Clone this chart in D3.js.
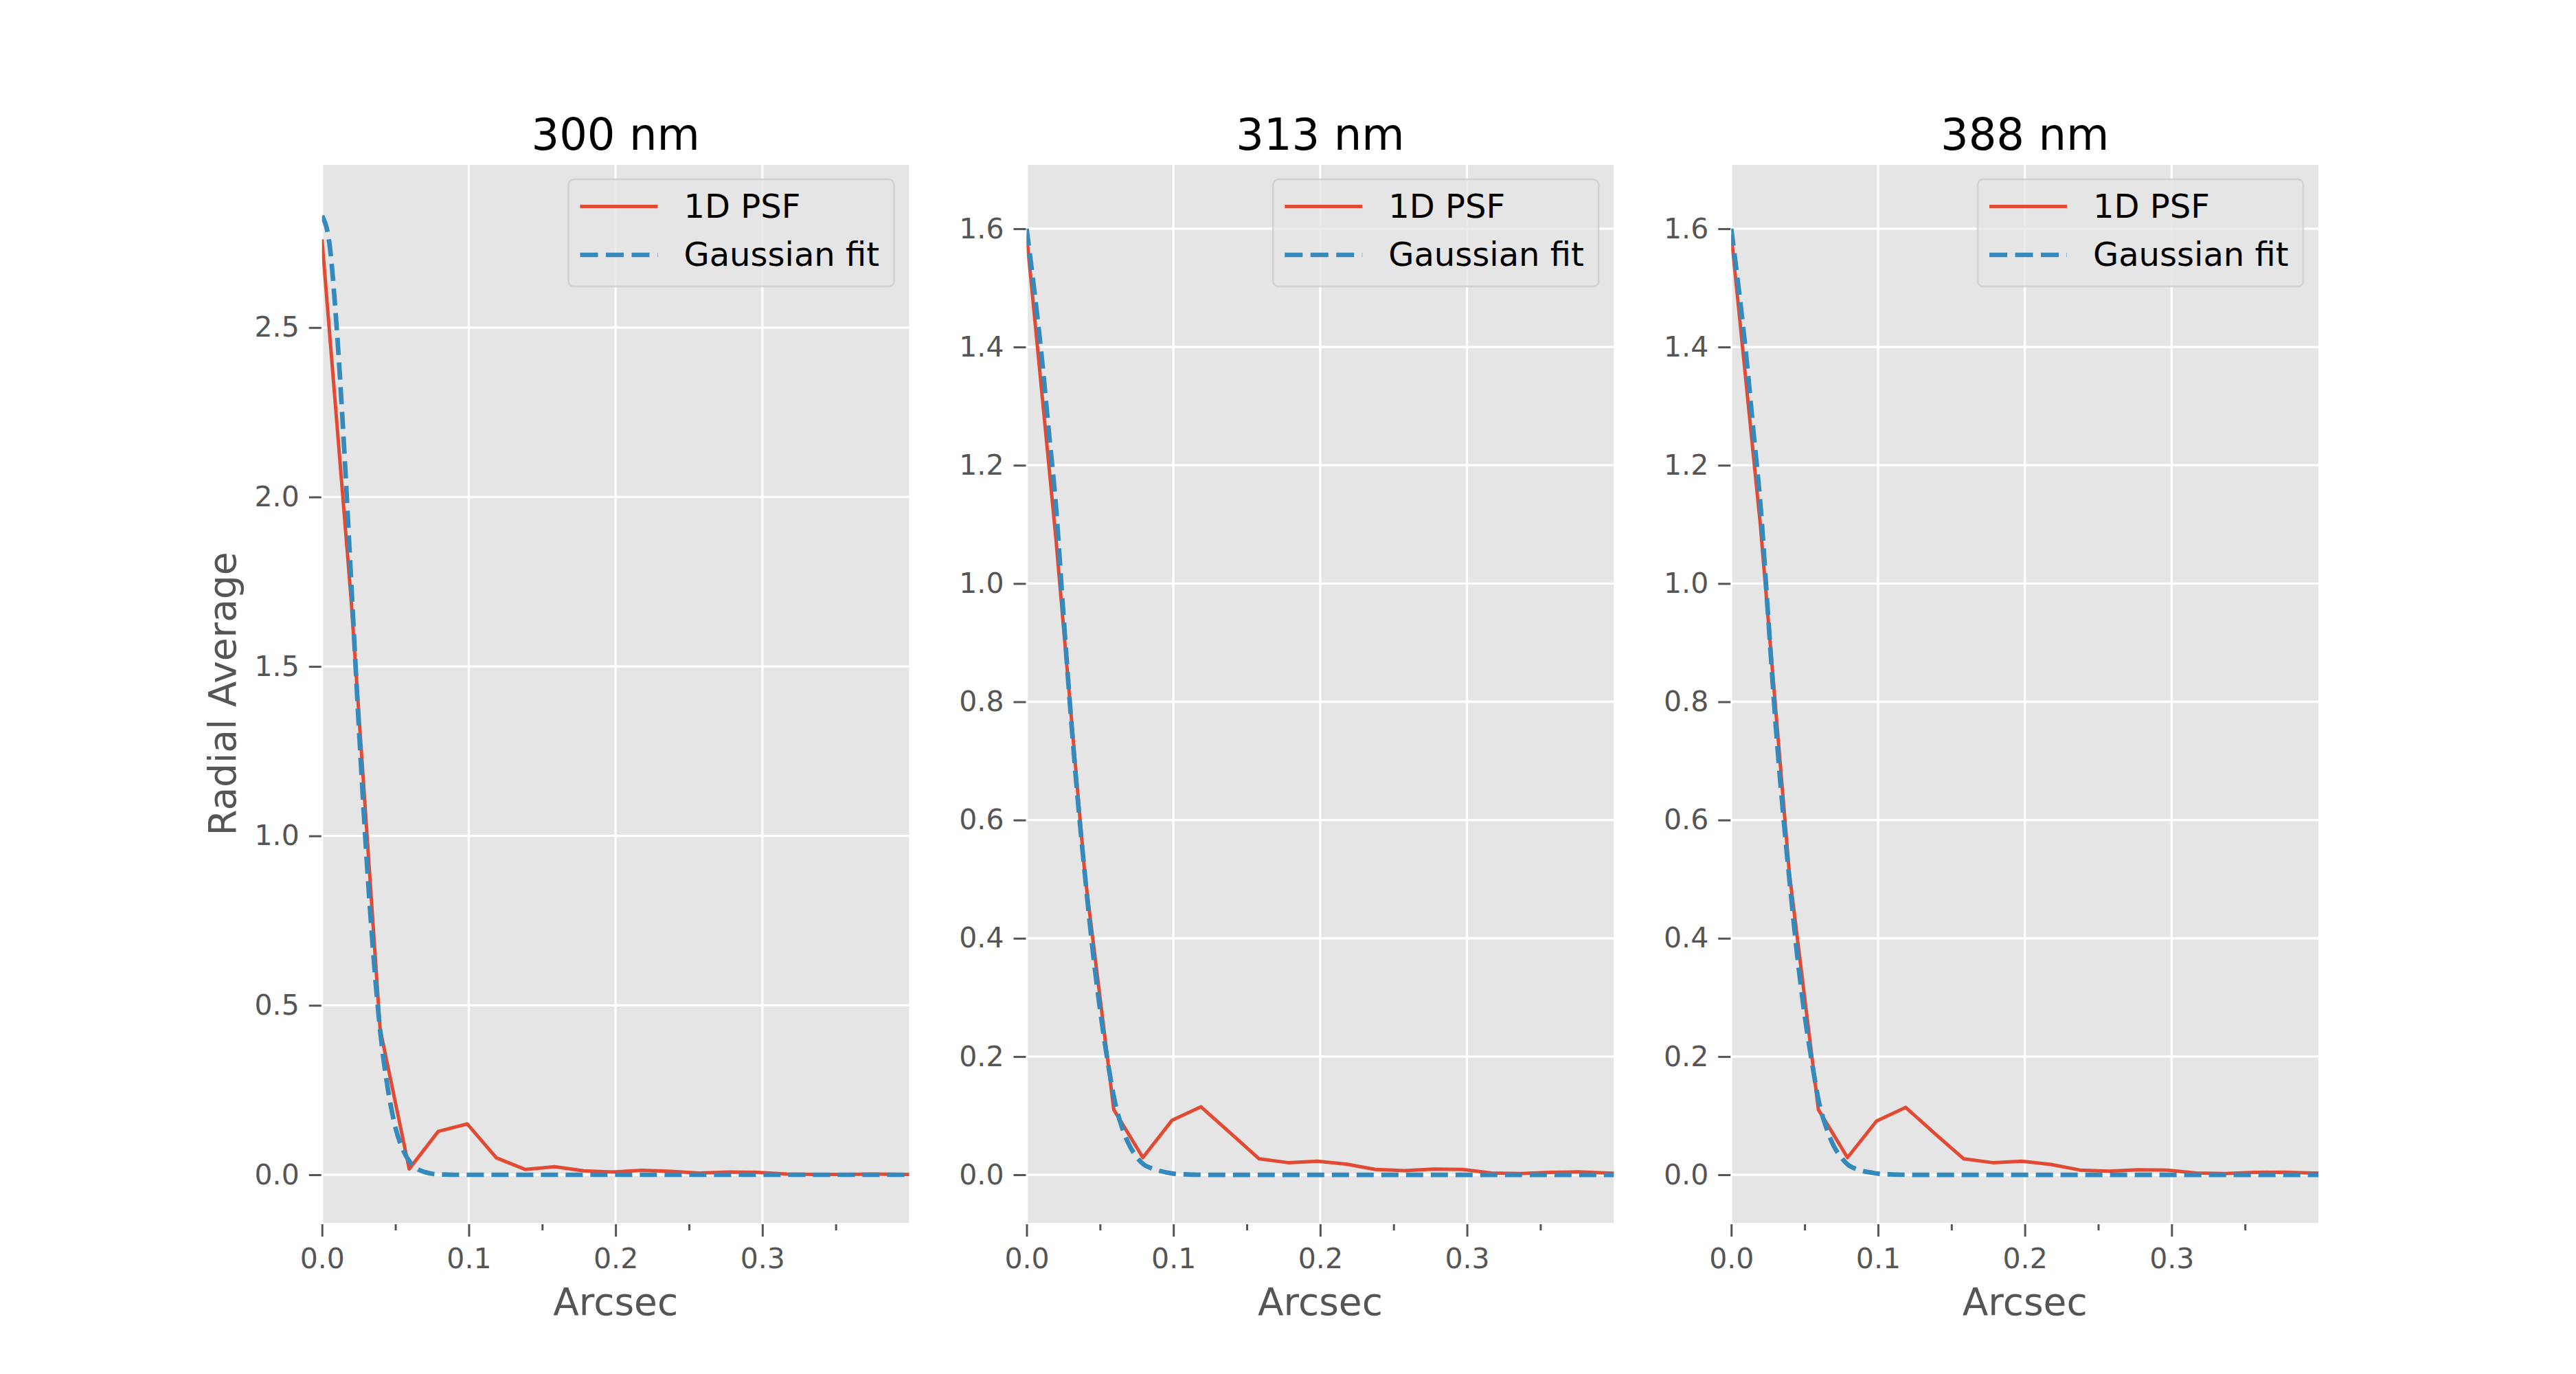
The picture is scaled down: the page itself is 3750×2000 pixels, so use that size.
<!DOCTYPE html>
<html>
<head>
<meta charset="utf-8">
<script src="https://cdn.jsdelivr.net/npm/d3@7"></script>
<style>
body { margin: 0; background: #fff; }
text { font-family: "DejaVu Sans", sans-serif; }
</style>
</head>
<body>
<svg id="fig" width="3750" height="2000"></svg>
<script>
// ---- data ----
var titles = ["300 nm", "313 nm", "388 nm"];
var legendLabels = ["1D PSF", "Gaussian fit"];

// radial sample positions of the measured profiles (arcsec)
var arcsec = [0, 0.0198, 0.0396, 0.0594, 0.0792, 0.099, 0.1188, 0.1386, 0.1584, 0.1782, 0.198,
	0.2178, 0.2376, 0.2574, 0.2772, 0.297, 0.3168, 0.3366, 0.3564, 0.3762, 0.396, 0.4158];

var psf300 = [2.76, 1.70, 0.43, 0.017, 0.128, 0.15, 0.05, 0.0155, 0.024, 0.0115, 0.008,
	0.013, 0.01, 0.005, 0.008, 0.007, 0.002, 0.001, 0.001, 0.002, 0.001, 0.001];
var psf313 = [1.59, 1.08, 0.51, 0.11, 0.029, 0.092, 0.115, 0.071, 0.027, 0.0205, 0.023,
	0.018, 0.009, 0.007, 0.0097, 0.009, 0.003, 0.002, 0.004, 0.005, 0.003, 0.002];
var psf388 = [1.59, 1.10, 0.51, 0.11, 0.029, 0.091, 0.114, 0.07, 0.027, 0.0205, 0.023,
	0.0175, 0.008, 0.006, 0.0085, 0.008, 0.003, 0.002, 0.004, 0.0045, 0.003, 0.002];

// positions where the fitted curves were read (arcsec)
var fitArcsec = [0, 0.005, 0.01, 0.015, 0.02, 0.025, 0.03, 0.035, 0.04, 0.045, 0.05,
	0.055, 0.06, 0.065, 0.07, 0.075, 0.08, 0.085, 0.09, 0.095, 0.1, 0.11, 0.12, 0.2, 0.3, 0.4158];

var fit300 = [2.83, 2.75, 2.50, 2.15, 1.74, 1.33, 0.96, 0.65, 0.41, 0.25, 0.14,
	0.075, 0.037, 0.017, 0.008, 0.003, 0.001, 0.0005, 0, 0, 0, 0, 0, 0, 0, 0];
var fit313 = [1.60, 1.50, 1.39, 1.26, 1.13, 0.95, 0.78, 0.63, 0.50, 0.38, 0.28,
	0.195, 0.125, 0.08, 0.05, 0.03, 0.017, 0.011, 0.007, 0.004, 0.002, 0.0005, 0, 0, 0, 0];
var fit388 = [1.60, 1.50, 1.39, 1.26, 1.13, 0.95, 0.77, 0.62, 0.49, 0.37, 0.27,
	0.19, 0.12, 0.078, 0.048, 0.029, 0.016, 0.01, 0.006, 0.004, 0.002, 0.0005, 0, 0, 0, 0];

var xLimits = [0, 0.4];
var xTicks = [0, 0.1, 0.2, 0.3];
var xMinorTicks = [0.05, 0.15, 0.25, 0.35];
var yLimits = [[-0.1419, 2.98], [-0.0813, 1.708], [-0.0813, 1.708]];
var yTicks = [[0, 0.5, 1, 1.5, 2, 2.5],
	[0, 0.2, 0.4, 0.6, 0.8, 1, 1.2, 1.4, 1.6],
	[0, 0.2, 0.4, 0.6, 0.8, 1, 1.2, 1.4, 1.6]];

var psfSeries = [psf300, psf313, psf388];
var fitSeries = [fit300, fit313, fit388];

// ---- layout ----
var panelLeft = [468.75, 1494.5, 2520.25];
var panelWidth = 854.75;
var panelTop = 240;
var panelHeight = 1540;

var red = "#E24A33";
var blue = "#348ABD";
var grey = "#555555";

var svg = d3.select("#fig");
svg.append("rect").attr("width", 3750).attr("height", 2000).attr("fill", "#fff");

titles.forEach(function(t, i){ drawPanel(i); });

// y label only on the first panel
svg.append("text")
	.attr("transform", "translate(343," + (panelTop + panelHeight / 2) + ") rotate(-90)")
	.attr("text-anchor", "middle")
	.attr("font-size", 55)
	.attr("fill", grey)
	.text("Radial Average");

function drawPanel(i){
	var x = d3.scaleLinear().domain(xLimits).range([0, panelWidth]);
	var y = d3.scaleLinear().domain(yLimits[i]).range([panelHeight, 0]);

	var g = svg.append("g")
		.attr("transform", "translate(" + panelLeft[i] + "," + panelTop + ")");

	g.append("clipPath").attr("id", "clip" + i)
		.append("rect").attr("width", panelWidth).attr("height", panelHeight);

	g.append("rect")
		.attr("width", panelWidth)
		.attr("height", panelHeight)
		.attr("fill", "#E5E5E5");

	// grid
	g.selectAll(".vgrid").data(xTicks).enter().append("line")
		.attr("x1", function(d){ return x(d); })
		.attr("x2", function(d){ return x(d); })
		.attr("y1", 0).attr("y2", panelHeight)
		.attr("stroke", "#fff").attr("stroke-width", 3.3);
	g.selectAll(".hgrid").data(yTicks[i]).enter().append("line")
		.attr("y1", function(d){ return y(d); })
		.attr("y2", function(d){ return y(d); })
		.attr("x1", 0).attr("x2", panelWidth)
		.attr("stroke", "#fff").attr("stroke-width", 3.3);

	// axes
	var fmt = d3.format(".1f");
	var xAxis = g.append("g")
		.attr("transform", "translate(0," + (panelHeight + 2) + ")")
		.call(d3.axisBottom(x).tickValues(xTicks).tickSize(18).tickPadding(17).tickFormat(fmt));
	var xMinor = g.append("g")
		.attr("transform", "translate(0," + (panelHeight + 2) + ")")
		.call(d3.axisBottom(x).tickValues(xMinorTicks).tickSize(9).tickFormat(""));
	var yAxis = g.append("g")
		.attr("transform", "translate(-1,0)")
		.call(d3.axisLeft(y).tickValues(yTicks[i]).tickSize(18).tickPadding(14).tickFormat(fmt));

	[xAxis, xMinor, yAxis].forEach(function(a){
		a.select(".domain").remove();
		a.selectAll(".tick line").attr("stroke", grey).attr("stroke-width", 3);
		a.selectAll(".tick text")
			.attr("fill", grey)
			.attr("font-size", 41)
			.attr("font-family", "DejaVu Sans, sans-serif");
	});

	// curves
	var psfLine = d3.line()
		.x(function(d, k){ return x(arcsec[k]); })
		.y(function(d){ return y(d); });
	var fitLine = d3.line()
		.x(function(d, k){ return x(fitArcsec[k]); })
		.y(function(d){ return y(d); })
		.curve(d3.curveMonotoneX);

	var plot = g.append("g").attr("clip-path", "url(#clip" + i + ")");
	plot.append("path")
		.datum(psfSeries[i])
		.attr("d", psfLine)
		.attr("fill", "none")
		.attr("stroke", red)
		.attr("stroke-width", 5)
		.attr("stroke-linejoin", "round");
	plot.append("path")
		.datum(fitSeries[i])
		.attr("d", fitLine)
		.attr("fill", "none")
		.attr("stroke", blue)
		.attr("stroke-width", 6.7)
		.attr("stroke-dasharray", "25,11");

	// legend
	var lw = 474, lh = 156;
	var leg = g.append("g")
		.attr("transform", "translate(" + (panelWidth - 22 - lw) + ",21)");
	leg.append("rect")
		.attr("width", lw).attr("height", lh)
		.attr("rx", 8).attr("ry", 8)
		.attr("fill", "rgba(229,229,229,0.8)")
		.attr("stroke", "rgba(204,204,204,0.8)")
		.attr("stroke-width", 2.5);

	var rows = leg.selectAll(".entry").data(legendLabels).enter().append("g")
		.attr("transform", function(d, k){ return "translate(0," + (k === 0 ? 39.6 : 110) + ")"; });
	rows.append("line")
		.attr("x1", 17).attr("x2", 130)
		.attr("y1", 0).attr("y2", 0)
		.attr("stroke", function(d, k){ return k === 0 ? red : blue; })
		.attr("stroke-width", function(d, k){ return k === 0 ? 5 : 6.7; })
		.attr("stroke-dasharray", function(d, k){ return k === 0 ? null : "26,11.5"; });
	rows.append("text")
		.attr("x", 168)
		.attr("y", 16)
		.attr("font-size", 48)
		.attr("fill", "#000")
		.text(function(d){ return d; });

	// title and x label
	g.append("text")
		.attr("x", panelWidth / 2)
		.attr("y", 218 - panelTop)
		.attr("text-anchor", "middle")
		.attr("font-size", 64)
		.attr("fill", "#000")
		.text(titles[i]);
	g.append("text")
		.attr("x", panelWidth / 2)
		.attr("y", 1913.5 - panelTop)
		.attr("text-anchor", "middle")
		.attr("font-size", 55)
		.attr("fill", grey)
		.text("Arcsec");
}
</script>
</body>
</html>
